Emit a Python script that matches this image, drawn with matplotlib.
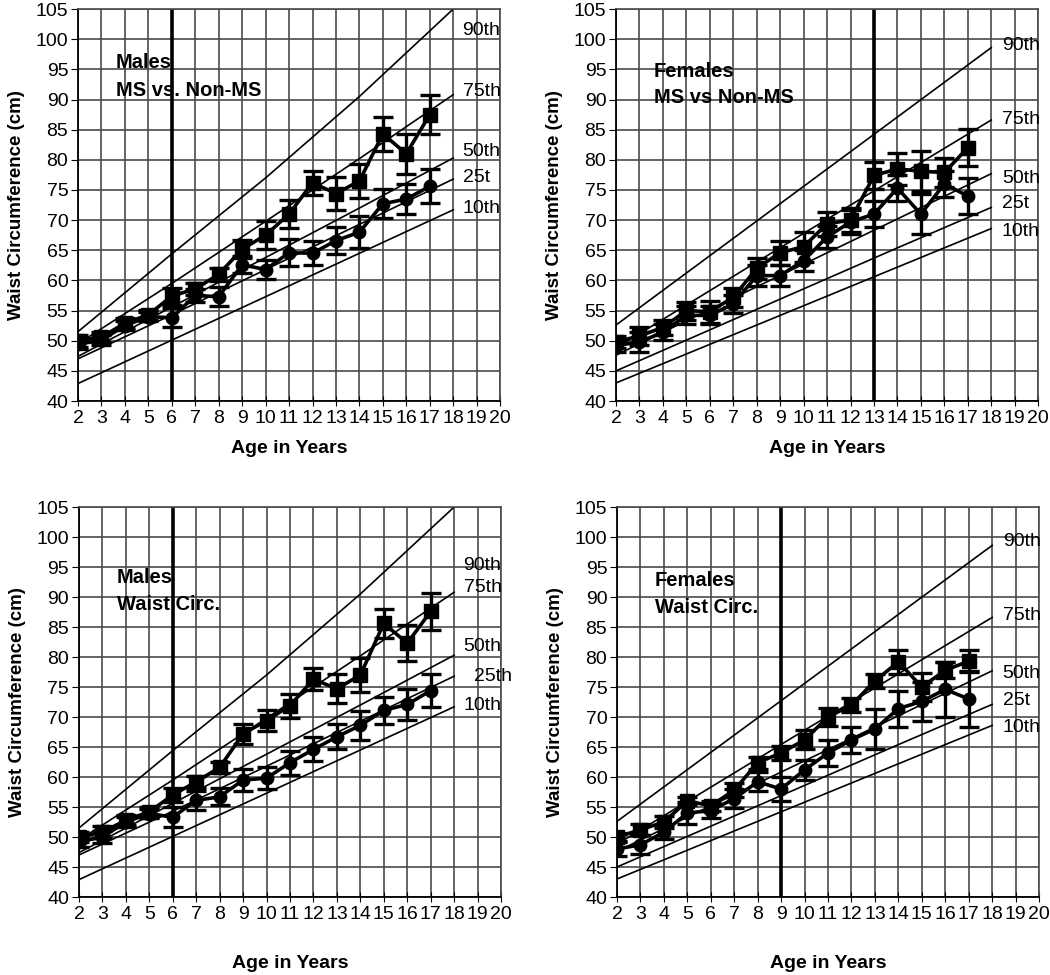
import matplotlib
matplotlib.use('Agg')
import matplotlib.pyplot as plt

plt.rcParams['font.family'] = ['Liberation Sans', 'DejaVu Sans']

ages = [2, 3, 4, 5, 6, 7, 8, 9, 10, 11, 12, 13, 14, 15, 16, 17]

# percentile reference lines, read at a few ages
pct_ages = [2, 6, 10, 14, 18]
male_p90 = [51.5, 64.4, 77.0, 90.5, 105.0]
male_p75 = [49.5, 59.5, 69.8, 80.2, 90.8]
male_p50 = [47.4, 55.6, 63.8, 72.0, 80.3]
male_p25 = [47.0, 54.3, 61.8, 69.3, 76.8]
male_p10 = [42.9, 50.1, 57.3, 64.5, 71.7]
female_p90 = [52.6, 64.1, 75.6, 87.1, 98.6]
female_p75 = [48.8, 58.3, 67.8, 77.2, 86.6]
female_p50 = [47.6, 55.2, 62.7, 70.2, 77.7]
female_p25 = [45.0, 51.8, 58.6, 65.4, 72.1]
female_p10 = [43.0, 49.4, 55.8, 62.2, 68.6]

# Males, MS vs Non-MS
m_ms = [50.0, 50.6, 52.9, 54.3, 57.4, 58.6, 61.0, 65.2, 67.5, 71.0, 76.2, 74.4, 76.5, 84.3, 81.0, 87.5]
m_ms_err = [1.0, 0.8, 0.8, 0.8, 1.4, 1.0, 1.1, 1.5, 2.3, 2.3, 2.0, 2.7, 2.8, 2.8, 3.3, 3.2]
m_non = [49.4, 50.1, 52.5, 54.0, 53.8, 57.5, 57.3, 62.6, 61.8, 64.6, 64.5, 66.6, 68.0, 72.7, 73.5, 75.6]
m_non_err = [0.8, 0.8, 0.8, 0.8, 1.6, 1.0, 1.6, 1.4, 1.6, 2.2, 2.0, 2.3, 2.7, 2.4, 2.5, 2.8]

# Females, MS vs Non-MS
f_ms = [49.8, 50.8, 52.2, 55.0, 54.8, 57.2, 62.0, 64.6, 65.6, 69.4, 70.0, 77.4, 78.5, 78.1, 77.9, 82.0]
f_ms_err = [1.0, 1.5, 1.3, 1.5, 1.8, 1.6, 1.8, 2.0, 2.5, 2.0, 2.0, 2.2, 2.6, 3.3, 2.4, 3.1]
f_non = [49.2, 49.8, 51.4, 54.2, 54.2, 56.1, 60.8, 60.8, 63.3, 67.2, 69.7, 71.0, 75.3, 71.0, 76.0, 74.0]
f_non_err = [1.0, 1.6, 1.3, 1.5, 1.5, 1.5, 1.8, 1.8, 1.8, 1.8, 2.0, 2.1, 2.2, 3.3, 2.2, 3.0]

# Males, waist circumference groups
m_high = [50.0, 50.8, 52.8, 54.2, 57.0, 59.2, 61.6, 67.2, 69.4, 71.9, 76.3, 74.7, 77.0, 85.6, 82.3, 87.6]
m_high_err = [0.8, 1.0, 0.8, 0.8, 1.2, 1.0, 0.9, 1.7, 1.7, 2.0, 1.8, 2.4, 2.9, 2.4, 3.0, 3.1]
m_low = [49.2, 50.0, 52.5, 53.9, 53.3, 56.1, 56.7, 59.5, 59.8, 62.4, 64.6, 66.7, 68.6, 71.1, 72.1, 74.4]
m_low_err = [0.8, 1.0, 0.8, 0.8, 1.7, 1.6, 1.4, 1.8, 1.8, 2.0, 2.0, 2.1, 2.4, 2.2, 2.6, 2.7]

# Females, waist circumference groups
f_high = [50.0, 51.2, 52.5, 56.0, 55.2, 57.8, 62.4, 64.0, 66.2, 70.0, 72.0, 76.0, 79.2, 75.0, 77.8, 79.3]
f_high_err = [0.6, 0.9, 1.0, 0.6, 0.8, 1.2, 1.0, 1.1, 1.6, 1.5, 1.1, 1.1, 2.0, 2.4, 1.3, 1.8]
f_low = [48.0, 48.7, 50.8, 54.0, 54.4, 56.4, 59.2, 58.0, 61.2, 64.0, 66.2, 68.0, 71.4, 72.6, 74.6, 73.0]
f_low_err = [1.2, 1.6, 1.2, 1.8, 1.2, 1.6, 1.6, 2.0, 1.7, 2.2, 2.2, 3.4, 3.0, 3.3, 4.6, 4.6]

pct_names_a = ['90th', '75th', '50th', '25t', '10th']
pct_names_b = ['90th', '75th', '50th', '25th', '10th']

panels = [
    dict(rect=[0.0743, 0.5887, 0.402, 0.402], sq=m_ms, sq_err=m_ms_err, ci=m_non, ci_err=m_non_err,
         pct=[male_p90, male_p75, male_p50, male_p25, male_p10], names=pct_names_a,
         label_y=[101.5, 91.3, 81.4, 77.0, 72.0], label_x=[18.4] * 5,
         cut=6, title=('Males', 'MS vs. Non-MS'), title_y=(96.2, 91.5), xlab_y=-0.1),
    dict(rect=[0.5867, 0.5887, 0.402, 0.402], sq=f_ms, sq_err=f_ms_err, ci=f_non, ci_err=f_non_err,
         pct=[female_p90, female_p75, female_p50, female_p25, female_p10], names=pct_names_a,
         label_y=[98.9, 86.7, 76.9, 72.8, 68.1], label_x=[18.45] * 5,
         cut=13, title=('Females', 'MS vs Non-MS'), title_y=(94.6, 90.3), xlab_y=-0.1),
    dict(rect=[0.0752, 0.08, 0.402, 0.40], sq=m_high, sq_err=m_high_err, ci=m_low, ci_err=m_low_err,
         pct=[male_p90, male_p75, male_p50, male_p25, male_p10], names=pct_names_b,
         label_y=[95.3, 91.5, 81.7, 76.7, 72.0], label_x=[18.4, 18.4, 18.4, 18.85, 18.4],
         cut=6, title=('Males', 'Waist Circ.'), title_y=(93.3, 88.8), xlab_y=-0.15),
    dict(rect=[0.5876, 0.08, 0.402, 0.40], sq=f_high, sq_err=f_high_err, ci=f_low, ci_err=f_low_err,
         pct=[female_p90, female_p75, female_p50, female_p25, female_p10], names=pct_names_a,
         label_y=[99.3, 86.9, 77.2, 72.8, 68.3], label_x=[18.45] * 5,
         cut=9, title=('Females', 'Waist Circ.'), title_y=(92.7, 88.3), xlab_y=-0.15),
]

fig = plt.figure(figsize=(10.5, 9.75), dpi=100)
grid_col = '#4a4a4a'

for p in panels:
    ax = fig.add_axes(p['rect'])
    ax.set_xlim(2, 20)
    ax.set_ylim(40, 105)
    ax.set_xticks(range(2, 21))
    ax.set_yticks(range(40, 106, 5))
    ax.grid(True, color=grid_col, linewidth=1.2)
    ax.set_axisbelow(True)
    for side in ['top', 'right']:
        ax.spines[side].set_color(grid_col)
        ax.spines[side].set_linewidth(1.2)
    for side in ['left', 'bottom']:
        ax.spines[side].set_linewidth(1.3)
    ax.tick_params(axis='x', direction='inout', length=7, labelsize=14, pad=3)
    ax.tick_params(axis='y', direction='out', length=5, labelsize=14, pad=2)

    for vals in p['pct']:
        ax.plot(pct_ages, vals, color='black', linewidth=1.2)
    for name, lx, ly in zip(p['names'], p['label_x'], p['label_y']):
        ax.text(lx, ly, name, fontsize=14, va='center', ha='left', clip_on=False)

    ax.axvline(p['cut'], color='black', linewidth=2.6)

    ax.errorbar(ages, p['sq'], yerr=p['sq_err'], color='black', marker='s', markersize=10,
                linewidth=2.6, elinewidth=2.4, capsize=7.5, capthick=2.4)
    ax.errorbar(ages, p['ci'], yerr=p['ci_err'], color='black', marker='o', markersize=9,
                linewidth=2.6, elinewidth=2.4, capsize=7.5, capthick=2.4)

    ax.text(3.62, p['title_y'][0], p['title'][0], fontsize=14.5, fontweight='bold', va='center')
    ax.text(3.62, p['title_y'][1], p['title'][1], fontsize=14.5, fontweight='bold', va='center')

    ax.set_xlabel('Age in Years', fontsize=14, fontweight='bold')
    ax.xaxis.set_label_coords(0.5, p['xlab_y'])
    ax.set_ylabel('Waist Circumference (cm)', fontsize=13.5, fontweight='bold')
    ax.yaxis.set_label_coords(-0.125, 0.5)

fig.savefig('out.png', dpi=100)
